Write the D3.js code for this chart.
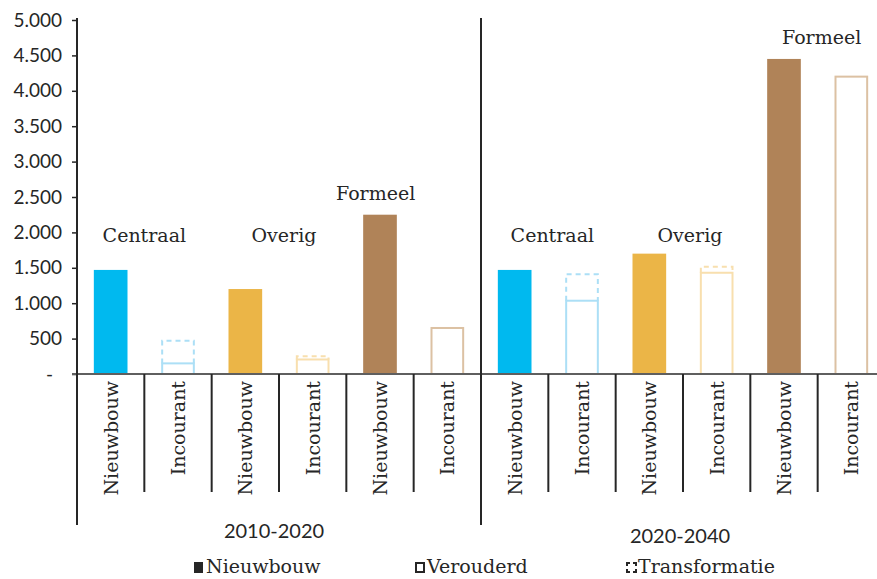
<!DOCTYPE html>
<html>
<head>
<meta charset="utf-8">
<script src="https://cdn.jsdelivr.net/npm/d3@7"></script>
<style>
  body { margin: 0; background: #fff; }
  svg text { fill: #262626; }
</style>
</head>
<body>
<div id="chart"></div>
<script>
// data
const periods = ["2010-2020", "2020-2040"];
const regions = ["Centraal", "Overig", "Formeel"];
const kinds = ["Nieuwbouw", "Incourant"];
const nieuwbouw2010 = [1470, 1200, 2250];
const nieuwbouw2020 = [1470, 1700, 4450];
const verouderd2010 = [150, 205, 650];
const verouderd2020 = [1035, 1430, 4200];
const transformatie2010 = [320, 45, 0];
const transformatie2020 = [375, 85, 0];
const yTicks = [0, 500, 1000, 1500, 2000, 2500, 3000, 3500, 4000, 4500, 5000];
const legendItems = ["Nieuwbouw", "Verouderd", "Transformatie"];

const nieuwbouw = [nieuwbouw2010, nieuwbouw2020];
const verouderd = [verouderd2010, verouderd2020];
const transformatie = [transformatie2010, transformatie2020];

const colors = { Centraal: "#00b9ef", Overig: "#ebb547", Formeel: "#b08358" };
const light = { Centraal: "#acdff6", Overig: "#f8dfae", Formeel: "#dcc1a3" };

const width = 877, height = 579;
const serif = "'DejaVu Serif', serif";
const sans = "Lato, sans-serif";

// flat list of the 12 columns
const cols = [];
periods.forEach((p, pi) => {
  regions.forEach((r, ri) => {
    kinds.forEach(k => {
      cols.push({ period: p, pi, region: r, ri, kind: k,
        nieuw: nieuwbouw[pi][ri], oud: verouderd[pi][ri], trans: transformatie[pi][ri] });
    });
  });
});

const svg = d3.select("#chart").append("svg")
  .attr("width", width).attr("height", height);

const x = d3.scaleBand()
  .domain(d3.range(cols.length))
  .range([77, 885])
  .paddingInner(0);
const bw = x.bandwidth();

const y = d3.scaleLinear().domain([0, 5000]).range([374, 20]);

// Y axis
const yAxis = svg.append("g")
  .attr("transform", "translate(77,0)")
  .call(d3.axisLeft(y)
    .tickValues(yTicks)
    .tickSize(5)
    .tickPadding(10)
    .tickFormat(d => d === 0 ? "-" : d3.format(",")(d).replace(/,/g, ".")));
yAxis.select(".domain").remove();
yAxis.selectAll(".tick line").attr("stroke", "#262626").attr("stroke-width", 1.5);
yAxis.selectAll(".tick text")
  .attr("font-family", sans).attr("font-size", 19).attr("fill", "#262626")
  .attr("dx", d => d === 0 ? -9 : 0);

// bars
const nb = cols.filter(c => c.kind === "Nieuwbouw");
svg.selectAll("rect.nieuw").data(nb).join("rect")
  .attr("class", "nieuw")
  .attr("x", c => x(cols.indexOf(c)) + bw / 4)
  .attr("width", bw / 2)
  .attr("y", c => y(c.nieuw))
  .attr("height", c => y(0) - y(c.nieuw))
  .attr("fill", c => colors[c.region]);

const inc = cols.filter(c => c.kind === "Incourant");
svg.selectAll("rect.oud").data(inc).join("rect")
  .attr("class", "oud")
  .attr("x", c => x(cols.indexOf(c)) + bw / 4 + 1)
  .attr("width", bw / 2 - 2)
  .attr("y", c => y(c.oud))
  .attr("height", c => y(0) - y(c.oud))
  .attr("fill", "none")
  .attr("stroke", c => light[c.region])
  .attr("stroke-width", 2);

svg.selectAll("path.trans").data(inc.filter(c => c.trans > 0)).join("path")
  .attr("class", "trans")
  .attr("d", c => {
    const x0 = x(cols.indexOf(c)) + bw / 4 + 1, x1 = x0 + bw / 2 - 2;
    const yb = y(c.oud), yt = y(c.oud + c.trans);
    return `M${x0},${yb}V${yt}H${x1}V${yb}`;
  })
  .attr("fill", "none")
  .attr("stroke", c => light[c.region])
  .attr("stroke-width", 2)
  .attr("stroke-dasharray", "5,4");

// base line
svg.append("line")
  .attr("x1", 72).attr("x2", width).attr("y1", y(0)).attr("y2", y(0))
  .attr("stroke", "#5f5f5f").attr("stroke-width", 2);

// category separators
d3.range(1, cols.length).filter(i => i !== 6).forEach(i => {
  svg.append("line")
    .attr("x1", x(i)).attr("x2", x(i)).attr("y1", y(0)).attr("y2", 492)
    .attr("stroke", "#262626").attr("stroke-width", 2);
});
// y axis line and period separator
[0, 6].forEach(i => {
  svg.append("line")
    .attr("x1", x(i)).attr("x2", x(i)).attr("y1", 18).attr("y2", 525)
    .attr("stroke", "#262626").attr("stroke-width", 2);
});

// rotated column labels
svg.selectAll("text.cat").data(cols).join("text")
  .attr("class", "cat")
  .attr("transform", (c, i) => `translate(${x(i) + bw / 2},381) rotate(-90)`)
  .attr("dy", "0.36em")
  .attr("text-anchor", "end")
  .attr("font-family", serif).attr("font-size", 19)
  .text(c => c.kind);

// region labels
const shift = [[0, 5, -38], [4, 7, 4]];
nb.forEach(c => {
  const i = cols.indexOf(c);
  const lx = x(i) + bw + shift[c.pi][c.ri];
  const ly = c.region === "Formeel" ? y(c.nieuw) - 15 : y(1870);
  svg.append("text")
    .attr("x", lx).attr("y", ly)
    .attr("text-anchor", "middle")
    .attr("font-family", serif).attr("font-size", 19)
    .text(c.region);
});

// period labels
periods.forEach((p, pi) => {
  svg.append("text")
    .attr("x", x(pi * 6) + bw * 3 - (pi === 0 ? 5 : 3))
    .attr("y", pi === 0 ? 538 : 543)
    .attr("text-anchor", "middle")
    .attr("font-family", sans).attr("font-size", 20)
    .text(p);
});

// legend
const legendX = [194, 415, 626];
const lg = svg.append("g");
legendItems.forEach((name, i) => {
  const g = lg.append("g").attr("transform", `translate(${legendX[i]},562)`);
  if (i === 0) {
    g.append("rect").attr("width", 9).attr("height", 11).attr("fill", "#262626");
  } else if (i === 1) {
    g.append("rect").attr("x", 1).attr("y", 1).attr("width", 8).attr("height", 9)
      .attr("fill", "none").attr("stroke", "#262626").attr("stroke-width", 2);
  } else {
    g.append("path")
      .attr("d", "M1,4V1H4 M7,1H10V4 M10,7V10H7 M4,10H1V7")
      .attr("fill", "none").attr("stroke", "#262626").attr("stroke-width", 2);
  }
  g.append("text")
    .attr("x", 12).attr("y", 10.5)
    .attr("font-family", serif).attr("font-size", 19)
    .text(name);
});
</script>
</body>
</html>
